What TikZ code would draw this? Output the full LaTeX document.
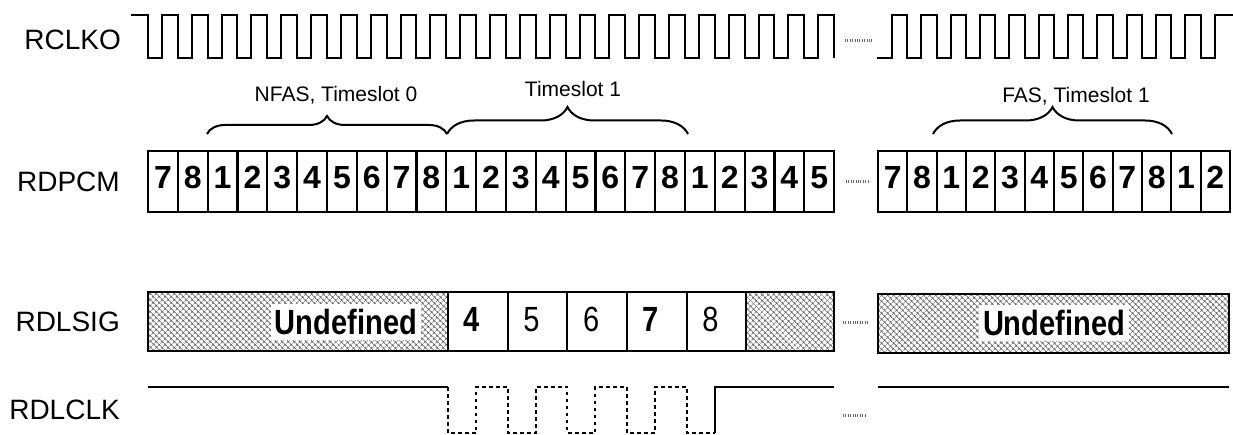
\documentclass[tikz,border=0pt]{standalone}
\usepackage{fontspec}
\setmainfont{Liberation Sans}
\newfontfamily\narrowsans[FakeStretch=0.83]{Liberation Sans}
\usetikzlibrary{patterns.meta, decorations.pathreplacing, positioning}

\begin{document}
\begin{tikzpicture}[x=1pt, y=-1pt,
        lbl/.style={anchor=east, inner sep=0pt, font=\fontsize{28}{30}\selectfont},
        slotlbl/.style={inner sep=0pt, font=\fontsize{21}{24}\selectfont},
        bit/.style={draw, line width=2.2pt, anchor=north west, minimum width=#1, minimum height=61, inner sep=0pt, outer sep=0pt, text height=23pt, text depth=8pt, font=\fontsize{32}{32}\selectfont\bfseries},
        sigbox/.style={draw, line width=2.2pt, anchor=north west, minimum width=59.66, minimum height=59, inner sep=0pt, outer sep=0pt},
        sigdigit/.style={xshift=-6pt, yshift=2pt, inner sep=0pt, font=\fontsize{35}{35}\selectfont\narrowsans},
        undef/.style={sigbox, minimum width=#1, pattern={Hatch[angle=45, distance=4pt, line width=0.55pt]}, pattern color=black!65},
        undeftxt/.style={fill=white, inner xsep=4pt, inner ysep=5pt, font=\fontsize{35}{35}\selectfont\narrowsans\bfseries},
        clk/.style={line width=2pt},
        clkdash/.style={line width=1.8pt, dash pattern=on 3.5pt off 3.5pt},
        brc/.style={line width=2pt, decorate, decoration={brace, amplitude=#1}},
        gap/.style={line width=3pt, dash pattern=on 0.8pt off 1.6pt, black!60}
    ]
    \useasboundingbox (0,0) rectangle (1233,435);

    % signal names
    \node[lbl] (nclko) at (121,40) {RCLKO};
    \node[lbl] (npcm) at (120,182) {RDPCM};
    \node[lbl] (nsig) at (120,322) {RDLSIG};
    \node[lbl] (nclk) at (120,410) {RDLCLK};

    % RCLKO
    \draw[clk] (131,15) -- (148,15) \foreach \k in {1,...,23}{ -- ++(0,43) -- ++(14,0) -- ++(0,-43) -- ++(15.83,0)} -- ++(0,43);
    \draw[clk] (877,58) -- (892,58) -- (892,15) -- (907.33,15) \foreach \k in {1,...,11}{ -- ++(0,43) -- ++(14,0) -- ++(0,-43) -- ++(15.33,0)} -- ++(3,0);

    % timeslot braces
    \draw[brc=18pt] (207,134) -- (447,134);
    \draw[brc=27pt] (447,134) -- (688,134);
    \draw[brc=27pt] (933,134) -- (1172,134);
    \node[slotlbl] (tnfas) at (336,95) {NFAS, Timeslot 0};
    \node[slotlbl] (tts1) at (573,89) {Timeslot 1};
    \node[slotlbl] (tfas) at (1076,96) {FAS, Timeslot 1};

    % RDPCM bits
    \foreach \d [count=\i from 0] in {7,8,1,2,3,4,5,6,7,8,1,2,3,4,5,6,7,8,1,2,3,4,5}
        \node[bit=29.83] (pa\i) at ({148+\i*29.83},151) {\d};
    \foreach \d [count=\i from 0] in {7,8,1,2,3,4,5,6,7,8,1,2}
        \node[bit=29.33] (pb\i) at ({878+\i*29.33},151) {\d};

    % RDLSIG
    \node[undef=300] (ua) at (148,292) {};
    \foreach \d/\w [count=\i from 0] in {4/\bfseries, 5/\mdseries, 6/\mdseries, 7/\bfseries, 8/\mdseries}
        \node[sigbox, label={[sigdigit]center:\w\d}] (s\i) at ({448+\i*59.66},292) {};
    \node[undef=88] (ub) at (746,292) {};
    \node[undef=351] (uc) at (878,294) {};
    \node[undeftxt] (uta) at (346,322) {Undefined};
    \node[undeftxt] (utc) at (1054,323) {Undefined};

    % RDLCLK
    \draw[clk] (148,387) -- (448,387);
    \draw[clkdash] (448,387) \foreach \k in {1,...,4}{ -- ++(0,46) -- ++(28,0) -- ++(0,-46) -- ++(31.66,0)} -- ++(0,46) -- ++(28,0);
    \draw[clk] (714.6,433) -- (714.6,387) -- (834,387);
    \draw[clk] (878,387) -- (1229,387);

    % breaks
    \draw[gap] (845,41) -- (872,41);
    \draw[gap] (846,182) -- (870,182);
    \draw[gap] (843,322) -- (869,322);
    \draw[gap] (843,415) -- (866,415);
\end{tikzpicture}
\end{document}
